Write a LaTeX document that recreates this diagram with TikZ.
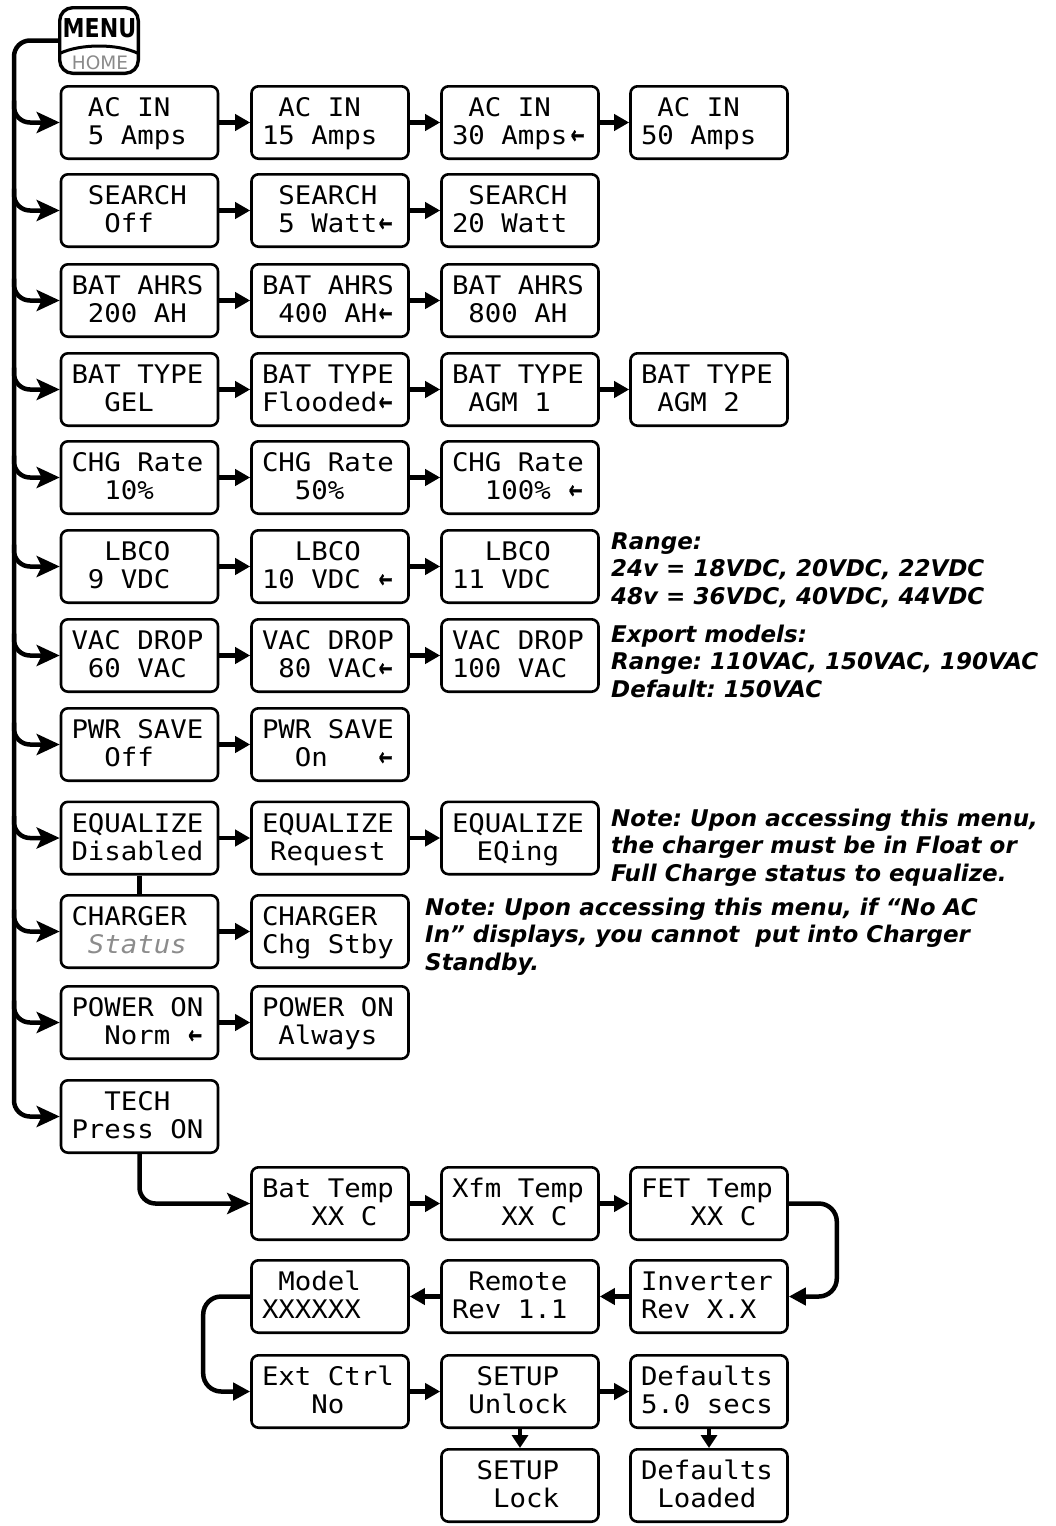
\documentclass[tikz,border=0pt]{standalone}
\usepackage{fontspec}
\usetikzlibrary{arrows.meta}
\newfontfamily\boxfont{DejaVu Sans Mono}[FakeStretch=1.07]
\newfontfamily\notefont{DejaVu Sans}
\newfontfamily\menufont{DejaVu Sans}[FakeStretch=0.85]
\newfontfamily\arrfont{DejaVu Sans}[FakeBold=1.5]
\definecolor{statusgray}{HTML}{8C8C8C}
\definecolor{homegray}{HTML}{8A8A8A}
\frenchspacing
\newcommand\cw[1]{\hskip #1\fontcharwd\font`0\relax}
\newcommand\la{\hbox to \fontcharwd\font`0{\hss\raise1.5pt\hbox{\scalebox{0.72}[1.05]{\arrfont\bfseries\fontsize{23}{23}\selectfont ←}}\hss}}
\newcommand\tl[2]{\vbox{\baselineskip=28.3pt\lineskiplimit=-100pt\lineskip=0pt
 \hbox to 136pt{\vrule height 22.5pt depth 6.2pt width 0pt\relax #1\hfil}
 \hbox to 136pt{\vrule height 22.5pt depth 6.2pt width 0pt\relax #2\hfil}}}
\tikzset{
 bx/.style={draw, line width=2.6pt, rounded corners=7pt, minimum width=157pt, minimum height=72.4pt,
   inner xsep=10.5pt, inner ysep=0pt, font=\boxfont\fontsize{25.6}{28.3}\selectfont},
 conn/.style={line width=4.5pt},
 harr/.style={conn, -{Triangle[length=15pt,width=16pt]}},
 varr/.style={conn, -{Triangle[length=13pt,width=16pt]}},
 barr/.style={conn, rounded corners=16pt, -{Stealth[length=23pt,width=21pt,inset=5pt]}},
 larr/.style={conn, rounded corners=18pt, -{Triangle[length=17pt,width=17pt]}},
 note/.style={anchor=north west, inner sep=0pt, align=left,
   font=\notefont\bfseries\itshape\fontsize{23}{27.7}\selectfont\frenchspacing}
}
\begin{document}
\begin{tikzpicture}[x=1pt,y=-1pt]
\useasboundingbox (0,0) rectangle (1055,1526);
% MENU / HOME
\node[draw, line width=3.4pt, rounded corners=13pt, minimum width=78.6pt, minimum height=65.6pt, inner sep=0pt] (menu) at (99,40.5) {};
\draw[line width=3pt] (59.7,53.5) .. controls (80,43.5) and (118,43.5) .. (138.3,53.5);
\node[anchor=base, inner sep=0pt, font=\menufont\bfseries\fontsize{26}{26}\selectfont] (menut) at (99.5,37.5) {MENU};
\node[anchor=base, inner sep=0pt, text=homegray, font=\notefont\fontsize{18.5}{18.5}\selectfont] (homet) at (100,69) {HOME};
% row 1
\node[bx] (ac1) at (139.5,122.5) {\tl{\cw{1}AC IN}{\cw{1}5 Amps}};
\node[bx] (ac2) at (330,122.5) {\tl{\cw{1}AC IN}{15 Amps}};
\node[bx] (ac3) at (520,122.5) {\tl{\cw{1}AC IN}{30 Amps\hskip2pt\la}};
\node[bx] (ac4) at (709,122.5) {\tl{\cw{1}AC IN}{50 Amps}};
% row 2
\node[bx] (se1) at (139.5,210.5) {\tl{\cw{1}SEARCH}{\cw{2}Off}};
\node[bx] (se2) at (330,210.5) {\tl{\cw{1}SEARCH}{\cw{1}5 Watt\la}};
\node[bx] (se3) at (520,210.5) {\tl{\cw{1}SEARCH}{20 Watt}};
% row 3
\node[bx] (ah1) at (139.5,300.5) {\tl{BAT AHRS}{\cw{1}200 AH}};
\node[bx] (ah2) at (330,300.5) {\tl{BAT AHRS}{\cw{1}400 AH\la}};
\node[bx] (ah3) at (520,300.5) {\tl{BAT AHRS}{\cw{1}800 AH}};
% row 4
\node[bx] (bt1) at (139.5,389.5) {\tl{BAT TYPE}{\cw{2}GEL}};
\node[bx] (bt2) at (330,389.5) {\tl{BAT TYPE}{Flooded\la}};
\node[bx] (bt3) at (520,389.5) {\tl{BAT TYPE}{\cw{1}AGM 1}};
\node[bx] (bt4) at (709,389.5) {\tl{BAT TYPE}{\cw{1}AGM 2}};
% row 5
\node[bx] (cr1) at (139.5,477.5) {\tl{CHG Rate}{\cw{2}10\%}};
\node[bx] (cr2) at (330,477.5) {\tl{CHG Rate}{\cw{2}50\%}};
\node[bx] (cr3) at (520,477.5) {\tl{CHG Rate}{\cw{2}100\%\cw{1}\la}};
% row 6
\node[bx] (lb1) at (139.5,566.5) {\tl{\cw{2}LBCO}{\cw{1}9 VDC}};
\node[bx] (lb2) at (330,566.5) {\tl{\cw{2}LBCO}{10 VDC\cw{1}\la}};
\node[bx] (lb3) at (520,566.5) {\tl{\cw{2}LBCO}{11 VDC}};
% row 7
\node[bx] (vd1) at (139.5,655.5) {\tl{VAC DROP}{\cw{1}60 VAC}};
\node[bx] (vd2) at (330,655.5) {\tl{VAC DROP}{\cw{1}80 VAC\la}};
\node[bx] (vd3) at (520,655.5) {\tl{VAC DROP}{100 VAC}};
% row 8
\node[bx] (ps1) at (139.5,744.5) {\tl{PWR SAVE}{\cw{2}Off}};
\node[bx] (ps2) at (330,744.5) {\tl{PWR SAVE}{\cw{2}On\cw{3}\la}};
% row 9
\node[bx] (eq1) at (139.5,838) {\tl{EQUALIZE}{Disabled}};
\node[bx] (eq2) at (330,838) {\tl{EQUALIZE}{\cw{0.5}Request}};
\node[bx] (eq3) at (520,838) {\tl{EQUALIZE}{\cw{1.5}EQing}};
% row 10
\node[bx] (ch1) at (139.5,931.5) {\tl{CHARGER}{\cw{1}{\color{statusgray}\itshape Status}}};
\node[bx] (ch2) at (330,931.5) {\tl{CHARGER}{Chg Stby}};
% row 11
\node[bx] (po1) at (139.5,1022.5) {\tl{POWER ON}{\cw{2}Norm\cw{1}\la}};
\node[bx] (po2) at (330,1022.5) {\tl{POWER ON}{\cw{1}Always}};
% row 12
\node[bx] (te) at (139.5,1116.5) {\tl{\cw{2}TECH}{Press ON}};
% tech section
\node[bx] (bat) at (330,1203.5) {\tl{Bat Temp}{\cw{3}XX C}};
\node[bx] (xfm) at (520,1203.5) {\tl{Xfm Temp}{\cw{3}XX C}};
\node[bx] (fet) at (709,1203.5) {\tl{FET Temp}{\cw{3}XX C}};
\node[bx] (mod) at (330,1296.5) {\tl{\cw{1}Model}{XXXXXX}};
\node[bx] (rem) at (520,1296.5) {\tl{\cw{1}Remote}{Rev 1.1}};
\node[bx] (inv) at (709,1296.5) {\tl{Inverter}{Rev X.X}};
\node[bx] (ext) at (330,1391.5) {\tl{Ext Ctrl}{\cw{3}No}};
\node[bx] (sun) at (520,1391.5) {\tl{\cw{1.5}SETUP}{\cw{1}Unlock}};
\node[bx] (dfs) at (709,1391.5) {\tl{Defaults}{5.0 secs}};
\node[bx] (slk) at (520,1485.5) {\tl{\cw{1.5}SETUP}{\cw{2.5}Lock}};
\node[bx] (dld) at (709,1485.5) {\tl{Defaults}{\cw{1}Loaded}};
% notes
\node[note] (n1) at (611,529.6) {\strut Range:\\24v = 18VDC, 20VDC, 22VDC\\48v = 36VDC, 40VDC, 44VDC};
\node[note] (n2) at (611,622.6) {\strut Export models:\\Range: 110VAC, 150VAC, 190VAC\\Default: 150VAC};
\node[note] (n3) at (611,806.6) {\strut Note: Upon accessing this menu,\\the charger must be in Float or\\Full Charge status to equalize.};
\node[note] (n4) at (425,895.6) {\strut Note: Upon accessing this menu, if “No AC\\In” displays, you cannot\ \ put into Charger\\Standby.};
% bus
\coordinate (busbot) at (14,1116.5);
\draw[barr] (menu.west) -| (busbot) -- (te.west);
\foreach \n/\y in {ac1/122.5, se1/210.5, ah1/300.5, bt1/389.5, cr1/477.5, lb1/566.5, vd1/655.5, ps1/744.5, eq1/838, ch1/931.5, po1/1022.5}{
  \coordinate (b\n) at (14,\y-22);
  \draw[barr] (b\n) |- (\n.west);
}
% horizontal arrows
\draw[harr] (ac1) -- (ac2); \draw[harr] (ac2) -- (ac3); \draw[harr] (ac3) -- (ac4);
\draw[harr] (se1) -- (se2); \draw[harr] (se2) -- (se3);
\draw[harr] (ah1) -- (ah2); \draw[harr] (ah2) -- (ah3);
\draw[harr] (bt1) -- (bt2); \draw[harr] (bt2) -- (bt3); \draw[harr] (bt3) -- (bt4);
\draw[harr] (cr1) -- (cr2); \draw[harr] (cr2) -- (cr3);
\draw[harr] (lb1) -- (lb2); \draw[harr] (lb2) -- (lb3);
\draw[harr] (vd1) -- (vd2); \draw[harr] (vd2) -- (vd3);
\draw[harr] (ps1) -- (ps2);
\draw[harr] (eq1) -- (eq2); \draw[harr] (eq2) -- (eq3);
\draw[harr] (ch1) -- (ch2);
\draw[harr] (po1) -- (po2);
\draw[conn] (eq1) -- (ch1);
% tech section connectors
\draw[barr] (te.south) |- (bat.west);
\draw[harr] (bat) -- (xfm); \draw[harr] (xfm) -- (fet);
\draw[larr] (fet.east) -- ++(48,0) |- (inv.east);
\draw[harr] (inv) -- (rem); \draw[harr] (rem) -- (mod);
\draw[larr] (mod.west) -- ++(-47,0) |- (ext.west);
\draw[harr] (ext) -- (sun); \draw[harr] (sun) -- (dfs);
\draw[varr] (sun) -- (slk); \draw[varr] (dfs) -- (dld);
\end{tikzpicture}
\end{document}
